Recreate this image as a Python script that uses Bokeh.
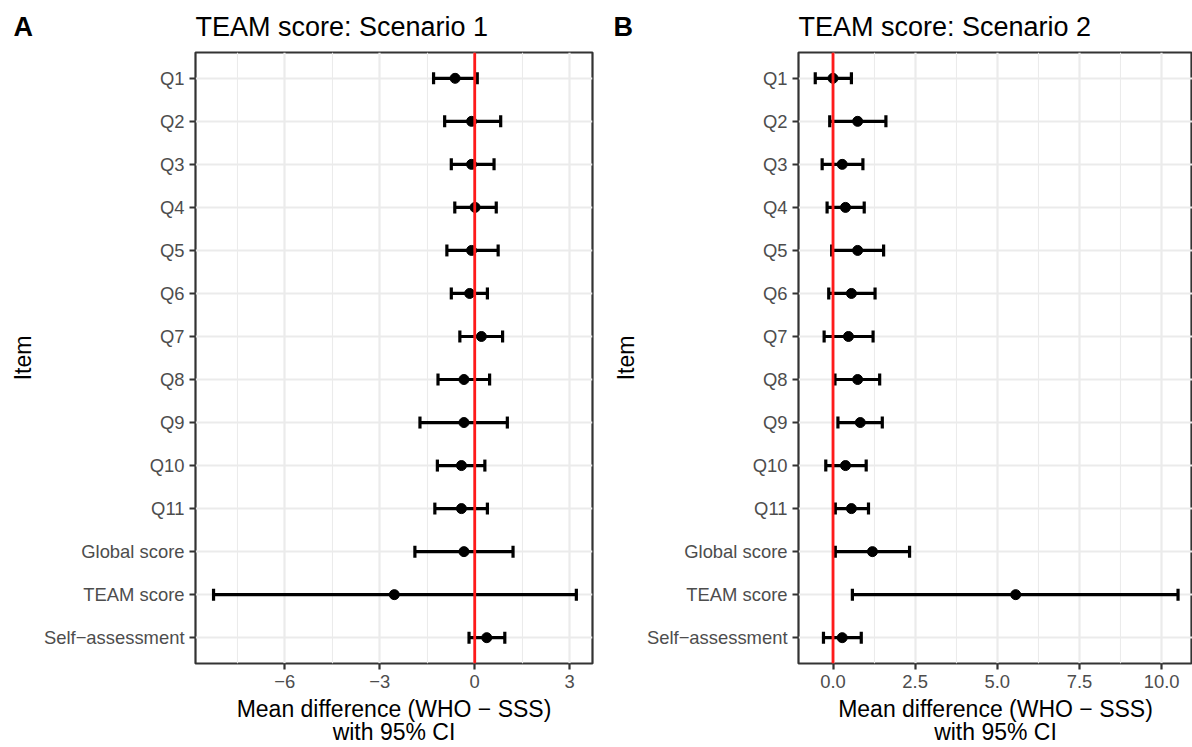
from bokeh.plotting import figure
from bokeh.models import (ColumnDataSource, FactorRange, Range1d, FixedTicker, Whisker,
                          TeeHead, Span, Label)
from bokeh.layouts import row, column
from bokeh.embed import file_html
from bokeh.resources import INLINE

# ---------------- data ----------------
items = ["Q1", "Q2", "Q3", "Q4", "Q5", "Q6", "Q7", "Q8", "Q9", "Q10", "Q11",
         "Global score", "TEAM score", "Self\u2212assessment"]

s1_mean = [-0.62, -0.10, -0.10, 0.01, -0.10, -0.16, 0.21, -0.34, -0.34, -0.42, -0.42, -0.34, -2.54, 0.38]
s1_lo = [-1.30, -0.95, -0.74, -0.63, -0.88, -0.74, -0.47, -1.16, -1.73, -1.18, -1.26, -1.89, -8.25, -0.18]
s1_hi = [0.08, 0.82, 0.61, 0.68, 0.74, 0.40, 0.88, 0.47, 1.03, 0.32, 0.40, 1.21, 3.21, 0.95]

s2_mean = [0.00, 0.75, 0.28, 0.38, 0.75, 0.56, 0.47, 0.75, 0.83, 0.38, 0.56, 1.20, 5.56, 0.28]
s2_lo = [-0.54, -0.10, -0.33, -0.18, -0.04, -0.13, -0.27, 0.06, 0.15, -0.22, 0.07, 0.07, 0.59, -0.29]
s2_hi = [0.56, 1.61, 0.91, 0.95, 1.54, 1.28, 1.22, 1.42, 1.50, 1.01, 1.08, 2.33, 10.50, 0.86]

titles = ["TEAM score: Scenario 1", "TEAM score: Scenario 2"]
tags = ["A", "B"]
x_label = "Mean difference (WHO \u2212 SSS)\nwith 95% CI"
y_label = "Item"

ticks_a = [-6, -3, 0, 3]
tick_labels_a = ["\u22126", "\u22123", "0", "3"]
minor_a = [-7.5, -4.5, -1.5, 1.5]
ticks_b = [0, 2.5, 5, 7.5, 10]
tick_labels_b = ["0.0", "2.5", "5.0", "7.5", "10.0"]
minor_b = [1.25, 3.75, 6.25, 8.75]

FONT = "Liberation Sans"
TOP = 50


def make_header(title, tag, width, frame_left):
    h = figure(width=width, height=TOP, x_range=Range1d(0, width), y_range=Range1d(0, TOP),
               x_axis_type=None, y_axis_type=None, output_backend="svg",
               toolbar_location=None, min_border=0, outline_line_color=None)
    h.grid.visible = False
    h.background_fill_color = "white"
    h.border_fill_color = "white"
    h.add_layout(Label(x=13, y=24, x_units="screen", y_units="screen", text=tag,
                       text_font=FONT, text_font_size="27px", text_font_style="bold",
                       text_color="black", text_baseline="alphabetic"))
    h.add_layout(Label(x=frame_left, y=24, x_units="screen", y_units="screen", text=title,
                       text_font=FONT, text_font_size="27px", text_font_style="normal",
                       text_color="black", text_baseline="alphabetic"))
    return h


def make_panel(mean, lo, hi, xr, ticks, tick_labels, minor, width, mb_left, mb_right):
    src = ColumnDataSource(dict(item=items, mean=mean, lo=lo, hi=hi))
    p = figure(width=width, height=747 - TOP, y_range=FactorRange(*reversed(items)),
               x_range=Range1d(*xr), output_backend="svg", toolbar_location=None,
               min_border_left=mb_left, min_border_right=mb_right,
               min_border_top=2, min_border_bottom=82)
    p.y_range.range_padding = 0.1
    p.y_range.range_padding_units = "absolute"
    p.background_fill_color = "white"
    p.border_fill_color = "white"
    p.outline_line_color = "#333333"
    p.outline_line_width = 2.2

    # axes
    p.xaxis.ticker = FixedTicker(ticks=ticks, minor_ticks=minor)
    p.xaxis.major_label_overrides = {t: l for t, l in zip(ticks, tick_labels)}
    for ax in (p.xaxis[0], p.yaxis[0]):
        ax.axis_line_color = None
        ax.major_tick_line_color = "#333333"
        ax.major_tick_line_width = 2.2
        ax.major_tick_out = 6
        ax.major_tick_in = 0
        ax.minor_tick_line_color = None
        ax.major_label_text_font = FONT
        ax.major_label_text_font_size = "18.4px"
        ax.major_label_text_color = "#4d4d4d"
        ax.axis_label_text_font = FONT
        ax.axis_label_text_font_size = "23px"
        ax.axis_label_text_font_style = "normal"
        ax.axis_label_text_color = "black"
    p.xaxis.major_label_standoff = 5
    p.yaxis.major_label_standoff = 5
    p.xaxis.axis_label = x_label
    p.xaxis.axis_label_standoff = 5
    p.xaxis.axis_label_text_line_height = 0.9
    p.yaxis.axis_label = y_label
    p.yaxis.axis_label_standoff = 5

    # grid
    p.xgrid.grid_line_color = "#ebebeb"
    p.xgrid.grid_line_width = 2.2
    p.xgrid.minor_grid_line_color = "#ebebeb"
    p.xgrid.minor_grid_line_width = 1.1
    p.ygrid.grid_line_color = "#ebebeb"
    p.ygrid.grid_line_width = 2.2

    # error bars
    w = Whisker(source=src, base="item", lower="lo", upper="hi", dimension="width",
                line_color="black", line_width=3.2,
                lower_head=TeeHead(size=12, line_color="black", line_width=3.2),
                upper_head=TeeHead(size=12, line_color="black", line_width=3.2))
    p.add_layout(w)
    p.scatter(x="mean", y="item", source=src, size=10, color="black")

    p.add_layout(Span(location=0, dimension="height", line_color="#ff1a1a", line_width=2.8))
    return p


ha = make_header(titles[0], tags[0], 600, 195)
hb = make_header(titles[1], tags[1], 592, 198)
pa = make_panel(s1_mean, s1_lo, s1_hi, (-8.82, 3.72),
                ticks_a, tick_labels_a, minor_a, 600, 195, 8)
pb = make_panel(s2_mean, s2_lo, s2_hi, (-1.05, 10.94),
                ticks_b, tick_labels_b, minor_b, 592, 198, 0)

layout = column(row(ha, hb), row(pa, pb))
open("out.html", "w").write(file_html(layout, INLINE))
